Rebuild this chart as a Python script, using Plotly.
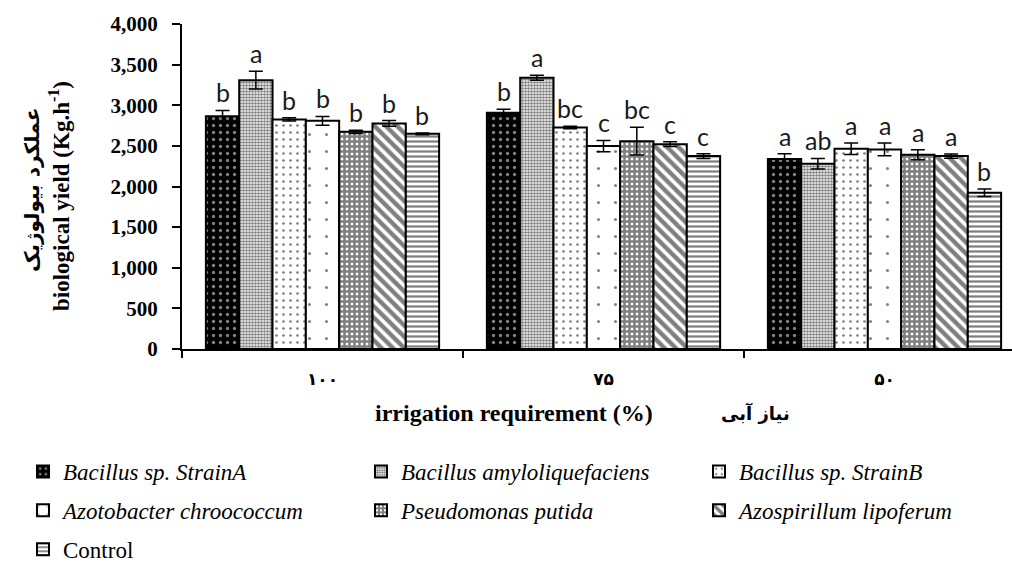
import plotly.graph_objects as go

categories = ["۱۰۰", "۷۵", "۵۰"]
treatments = [
    "<i>Bacillus sp. StrainA</i>",
    "<i>Bacillus amyloliquefaciens</i>",
    "<i>Bacillus sp. StrainB</i>",
    "<i>Azotobacter chroococcum</i>",
    "<i>Pseudomonas putida</i>",
    "<i>Azospirillum lipoferum</i>",
    "Control",
]
strainA = [2866, 2907, 2337]
amylo = [3309, 3338, 2280]
strainB = [2825, 2726, 2464]
azotobacter = [2808, 2497, 2456]
pseudomonas = [2673, 2558, 2390]
azospirillum = [2776, 2521, 2374]
control = [2648, 2374, 1923]

err_strainA = [70, 45, 65]
err_amylo = [110, 30, 65]
err_strainB = [20, 15, 70]
err_azotobacter = [55, 70, 78]
err_pseudomonas = [20, 170, 62]
err_azospirillum = [35, 30, 25]
err_control = [10, 30, 45]

let_strainA = ["b", "b", "a"]
let_amylo = ["a", "a", "ab"]
let_strainB = ["b", "bc", "a"]
let_azotobacter = ["b", "c", "a"]
let_pseudomonas = ["b", "bc", "a"]
let_azospirillum = ["b", "c", "a"]
let_control = ["b", "c", "b"]

values = [strainA, amylo, strainB, azotobacter, pseudomonas, azospirillum, control]
errors = [err_strainA, err_amylo, err_strainB, err_azotobacter, err_pseudomonas,
          err_azospirillum, err_control]
letters = [let_strainA, let_amylo, let_strainB, let_azotobacter, let_pseudomonas,
           let_azospirillum, let_control]

# pattern styles: (bg, fg, shape, size, solidity)
styles = [
    ("black", "white", ".", 7, 0.18),
    ("white", "black", ".", 3, 0.6),
    ("white", "black", ".", 7, 0.12),
    ("white", "black", ".", 17, 0.025),
    ("white", "black", "+", 5, 0.75),
    ("white", "black", "\\", 8, 0.55),
    ("white", "black", "-", 5, 0.45),
]

# legend columns, as in the reference's three-column legend
legend_ids = ["legend", "legend2", "legend3", "legend", "legend2", "legend3", "legend"]

fig = go.Figure()
for k, (name, vals, errs, st, lg) in enumerate(zip(treatments, values, errors, styles, legend_ids)):
    bg, fg, shape, size, sol = st
    fig.add_trace(go.Bar(
        x=categories, y=vals, name=name, legend=lg, legendgroup="g%d" % k,
        marker=dict(color=bg, line=dict(color="black", width=2),
                    pattern=dict(shape=shape, fgcolor=fg, bgcolor=bg, size=size,
                                 solidity=sol, fillmode="overlay")),
        error_y=dict(type="data", array=errs, color="black", thickness=1.5, width=7),
    ))

bargap = 0.17
n = len(values)
bw = (1 - bargap) / n
annotations = []
for j, (vals, errs, lets) in enumerate(zip(values, errors, letters)):
    for i in range(len(categories)):
        annotations.append(dict(
            x=i - (1 - bargap) / 2 + (j + 0.5) * bw, y=vals[i] + errs[i],
            xref="x", yref="y", text=lets[i], showarrow=False,
            yanchor="bottom", yshift=1,
            font=dict(family="Lato", size=25, color="#1a1a1a")))

plot_top, plot_bottom, plot_left, plot_w = 24, 349, 182, 830
plot_h = plot_bottom - plot_top

def py(px):
    return (plot_bottom - px) / plot_h

def pxx(px):
    return (px - plot_left) / plot_w

serif = "Liberation Serif, DejaVu Serif, serif"
annotations += [
    dict(x=pxx(60), y=py(196), xref="paper", yref="paper", textangle=-90,
         text="biological yield (Kg.h<sup>-1</sup>)", showarrow=False,
         xanchor="center", yanchor="middle",
         font=dict(family=serif, size=23, color="black", weight="bold")),
    dict(x=pxx(32), y=py(190), xref="paper", yref="paper", textangle=-90,
         text="عملکرد بیولوژیک", showarrow=False,
         xanchor="center", yanchor="middle",
         font=dict(family="DejaVu Sans", size=20, color="black", weight="bold")),
    dict(x=pxx(514), y=py(413), xref="paper", yref="paper",
         text="irrigation requirement (%)", showarrow=False,
         xanchor="center", yanchor="middle",
         font=dict(family=serif, size=24, color="black", weight="bold")),
    dict(x=pxx(755), y=py(413), xref="paper", yref="paper",
         text="نیاز آبی", showarrow=False,
         xanchor="center", yanchor="middle",
         font=dict(family="DejaVu Sans", size=18, color="black", weight="bold")),
]

legend_common = dict(orientation="v", xanchor="left", yanchor="top",
                     bgcolor="rgba(0,0,0,0)", tracegroupgap=6,
                     font=dict(family=serif, size=23, color="black"),
                     traceorder="grouped")

fig.update_layout(
    width=1012, height=562,
    margin=dict(l=plot_left, r=0, t=plot_top, b=562 - plot_bottom, autoexpand=False),
    paper_bgcolor="white", plot_bgcolor="white",
    barmode="group", bargap=bargap, bargroupgap=0,
    annotations=annotations,
    legend=dict(x=pxx(23), y=py(450), **legend_common),
    legend2=dict(x=pxx(361), y=py(450), **legend_common),
    legend3=dict(x=pxx(699), y=py(450), **legend_common),
    xaxis=dict(type="category", range=[-0.5, -0.5 + plot_w / 281],
               showline=True, linecolor="black", linewidth=2,
               ticks="outside", tickson="boundaries", ticklen=7, tickwidth=1.5,
               tickcolor="black", ticklabelstandoff=14,
               tickfont=dict(family="DejaVu Sans", size=17, color="black", weight="bold"),
               showgrid=False, zeroline=False),
    yaxis=dict(range=[0, 4000], dtick=500, tickformat=",d",
               showline=True, linecolor="black", linewidth=2,
               ticks="outside", ticklen=8, tickwidth=1.5, tickcolor="black",
               ticklabelstandoff=10,
               tickfont=dict(family=serif, size=21, color="black", weight="bold"),
               showgrid=False, zeroline=False),
)

fig.write_html("out.html", config={"displayModeBar": False},
               post_script="document.body.style.margin='0';document.body.style.overflow='hidden';")
